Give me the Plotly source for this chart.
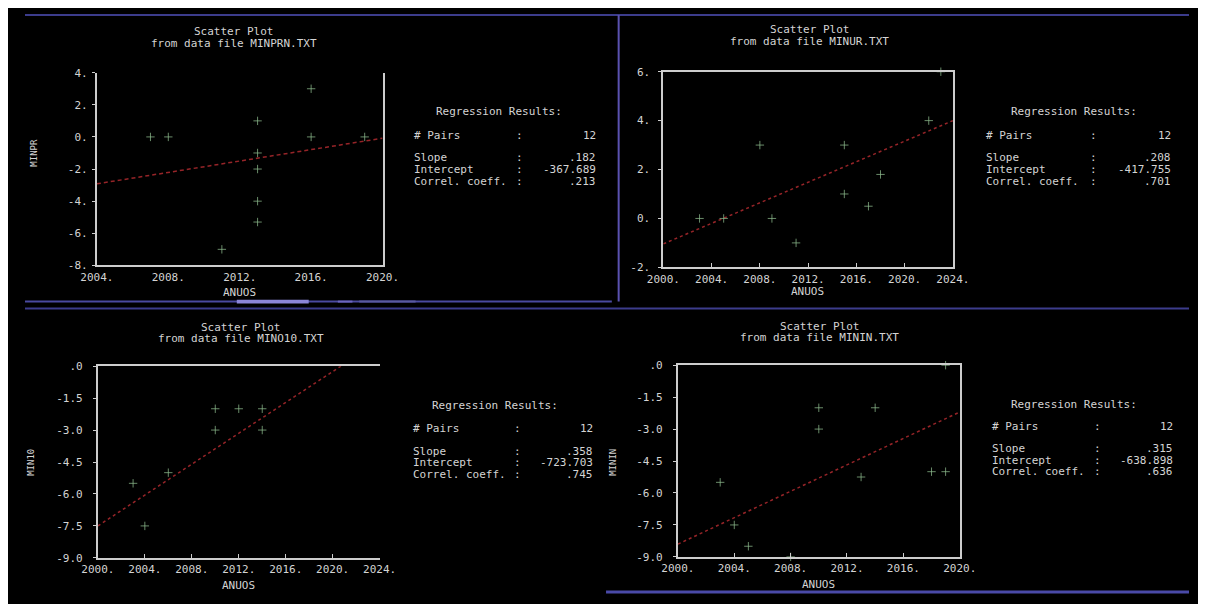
import plotly.graph_objects as go

# The page body has an 8px white margin; the figure fills the rest of the window.
OFF = 8
W, H = 1206 - OFF, 604 - OFF

# ---------------- data ----------------
p1_years = [2007, 2008, 2013, 2013, 2013, 2013, 2013, 2011, 2016, 2016, 2019]
p1_vals = [0, 0, 1, -1, -2, -4, -5.3, -7, 3, 0, 0]
p1_line_x = [2004, 2020]
p1_line_y = [-2.92, -0.08]
p1_xticks = [2004, 2008, 2012, 2016, 2020]
p1_xlabels = ["2004.", "2008.", "2012.", "2016.", "2020."]
p1_yticks = [4, 2, 0, -2, -4, -6, -8]
p1_ylabels = ["4.", "2.", "0.", "-2.", "-4.", "-6.", "-8."]
p1_stats = ["12", ".182", "-367.689", ".213"]

p2_years = [2003, 2005, 2008, 2009, 2011, 2015, 2015, 2017, 2018, 2022, 2023]
p2_vals = [0, 0, 3, 0, -1, 3, 1, 0.5, 1.8, 4, 6]
p2_line_x = [2000, 2024]
p2_line_y = [-1.04, 4.0]
p2_xticks = [2000, 2004, 2008, 2012, 2016, 2020, 2024]
p2_xlabels = ["2000.", "2004.", "2008.", "2012.", "2016.", "2020.", "2024."]
p2_yticks = [6, 4, 2, 0, -2]
p2_ylabels = ["6.", "4.", "2.", "0.", "-2."]
p2_stats = ["12", ".208", "-417.755", ".701"]

p3_years = [2003, 2004, 2006, 2010, 2010, 2012, 2014, 2014]
p3_vals = [-5.5, -7.5, -5.0, -2.0, -3.0, -2.0, -2.0, -3.0]
p3_line_x = [2000, 2020.7]
p3_line_y = [-7.5, 0.0]
p3_xticks = [2000, 2004, 2008, 2012, 2016, 2020, 2024]
p3_xlabels = ["2000.", "2004.", "2008.", "2012.", "2016.", "2020.", "2024."]
p3_yticks = [0, -1.5, -3.0, -4.5, -6.0, -7.5, -9.0]
p3_ylabels = [".0", "-1.5", "-3.0", "-4.5", "-6.0", "-7.5", "-9.0"]
p3_stats = ["12", ".358", "-723.703", ".745"]

p4_years = [2003, 2004, 2005, 2008, 2010, 2010, 2013, 2014, 2018, 2019, 2019]
p4_vals = [-5.5, -7.5, -8.5, -9.0, -2.0, -3.0, -5.25, -2.0, -5.0, -5.0, 0.0]
p4_line_x = [2000, 2020]
p4_line_y = [-8.4, -2.2]
p4_xticks = [2000, 2004, 2008, 2012, 2016, 2020]
p4_xlabels = ["2000.", "2004.", "2008.", "2012.", "2016.", "2020."]
p4_yticks = [0, -1.5, -3.0, -4.5, -6.0, -7.5, -9.0]
p4_ylabels = [".0", "-1.5", "-3.0", "-4.5", "-6.0", "-7.5", "-9.0"]
p4_stats = ["12", ".315", "-638.898", ".636"]

files = ["MINPRN.TXT", "MINUR.TXT", "MINO10.TXT", "MININ.TXT"]
x_titles = ["ANUOS", "ANUOS", "ANUOS", "ANUOS"]
y_titles = ["MINPR", "", "MIN10", "MININ"]
stat_labels = ["# Pairs", "Slope", "Intercept", "Correl. coeff."]

# ---------------- styling ----------------
MONO = "DejaVu Sans Mono"
TXT = "#d4d4d4"
AXC = "#cdcdcd"
RED = "#962428"
PT = "rgba(140,185,140,0.75)"
BLUE = "#3c3c8c"
FS = 11


# positions below are window pixels (x from left, y from top)
def fx(x):
    return (x - OFF) / W


def fy(y):
    return 1 - (y - OFF) / H


panels = [
    dict(dom_x=(82, 376), dom_y=(68, 265), rx=(2004, 2020), ry=(-8, 4),
         xs=p1_years, ys=p1_vals, lx=p1_line_x, ly=p1_line_y, dash="4px,3px",
         xt=p1_xticks, xl=p1_xlabels, yt=p1_yticks, yl=p1_ylabels,
         xmirror=False, ymirror=True, xticks="", ystand=2, stats=p1_stats,
         title=(223, 26, 38), xtitle=(229, 293), ytitle=(17, 150),
         reg=dict(head=(496, 108), left=406, colon=517, right=598, rows=(132, 155, 167, 179))),
    dict(dom_x=(665, 963), dom_y=(67, 267), rx=(2000, 2024), ry=(-2, 6),
         xs=p2_years, ys=p2_vals, lx=p2_line_x, ly=p2_line_y, dash="dot",
         xt=p2_xticks, xl=p2_xlabels, yt=p2_yticks, yl=p2_ylabels,
         xmirror=True, ymirror=True, xticks="inside", ystand=6, stats=p2_stats,
         title=(815, 24, 36), xtitle=(813, 292), ytitle=(628, 160),
         reg=dict(head=(1088, 108), left=995, colon=1108, right=1190, rows=(132, 155, 167, 179))),
    dict(dom_x=(83, 373), dom_y=(368, 564), rx=(2000, 2024), ry=(-9, 0),
         xs=p3_years, ys=p3_vals, lx=p3_line_x, ly=p3_line_y, dash="dot",
         xt=p3_xticks, xl=p3_xlabels, yt=p3_yticks, yl=p3_ylabels,
         xmirror=True, ymirror=False, xticks="inside", ystand=8, stats=p3_stats,
         title=(230, 328, 340), xtitle=(228, 592), ytitle=(14, 466),
         reg=dict(head=(492, 408), left=405, colon=515, right=595, rows=(432, 455, 467, 479))),
    dict(dom_x=(680, 970), dom_y=(367, 563), rx=(2000, 2020), ry=(-9, 0),
         xs=p4_years, ys=p4_vals, lx=p4_line_x, ly=p4_line_y, dash="dot",
         xt=p4_xticks, xl=p4_xlabels, yt=p4_yticks, yl=p4_ylabels,
         xmirror=True, ymirror=True, xticks="inside", ystand=8, stats=p4_stats,
         title=(826, 327, 339), xtitle=(825, 591), ytitle=(613, 466),
         reg=dict(head=(1088, 407), left=1001, colon=1112, right=1192, rows=(430, 452, 464, 476))),
]

fig = go.Figure()
layout = dict(
    width=W, height=H, margin=dict(l=0, r=0, t=0, b=0),
    paper_bgcolor="black", plot_bgcolor="black", showlegend=False,
    font=dict(family=MONO, color=TXT, size=FS),
)
annotations = []
shapes = []


def ann(text, x, y, xanchor="center", size=FS, angle=0, color=TXT):
    annotations.append(dict(text=text, x=fx(x), y=fy(y), xref="paper", yref="paper",
                            xanchor=xanchor, yanchor="middle", showarrow=False,
                            textangle=angle, font=dict(family=MONO, size=size, color=color)))


for i, p in enumerate(panels):
    n = "" if i == 0 else str(i + 1)
    xa, ya = "x" + n, "y" + n
    fig.add_trace(go.Scatter(x=p["lx"], y=p["ly"], mode="lines", xaxis=xa, yaxis=ya,
                             line=dict(color=RED, width=1.5, dash=p["dash"]), hoverinfo="skip"))
    fig.add_trace(go.Scatter(x=p["xs"], y=p["ys"], mode="markers", xaxis=xa, yaxis=ya,
                             cliponaxis=False,
                             marker=dict(symbol="cross-thin", size=6,
                                         line=dict(color=PT, width=1))))
    layout["xaxis" + n] = dict(
        domain=[fx(p["dom_x"][0]), fx(p["dom_x"][1])], range=list(p["rx"]),
        anchor=ya, showgrid=False, zeroline=False, showline=True, linecolor=AXC,
        linewidth=2, mirror=p["xmirror"], ticks=p["xticks"], ticklen=4, tickcolor=AXC,
        tickvals=p["xt"], ticktext=p["xl"], tickfont=dict(family=MONO, size=FS, color=TXT),
        fixedrange=True)
    layout["yaxis" + n] = dict(
        domain=[fy(p["dom_y"][1]), fy(p["dom_y"][0])], range=list(p["ry"]),
        anchor=xa, showgrid=False, zeroline=False, showline=True, linecolor=AXC,
        linewidth=2, mirror=p["ymirror"], ticks="outside", ticklen=3, tickcolor=AXC,
        ticklabelstandoff=p["ystand"],
        tickvals=p["yt"], ticktext=p["yl"], tickfont=dict(family=MONO, size=FS, color=TXT),
        fixedrange=True)

    tx, t1, t2 = p["title"]
    ann("Scatter Plot", tx, t1)
    ann("from data file " + files[i], tx, t2)
    ann(x_titles[i], *p["xtitle"])
    if y_titles[i]:
        ann(y_titles[i], p["ytitle"][0], p["ytitle"][1], size=9, angle=-90)

    r = p["reg"]
    ann("Regression Results:", r["head"][0], r["head"][1])
    for lab, val, yy in zip(stat_labels, p["stats"], r["rows"]):
        ann(lab, r["left"], yy, xanchor="left")
        ann(":", r["colon"], yy)
        ann(val, r["right"], yy, xanchor="right")


def rect(x0, y0, x1, y1, color):
    shapes.append(dict(type="rect", xref="paper", yref="paper", x0=fx(x0), x1=fx(x1),
                       y0=fy(y1), y1=fy(y0), fillcolor=color, line=dict(width=0), layer="above"))


def hline(x0, x1, y, color, w=2):
    shapes.append(dict(type="line", xref="paper", yref="paper", x0=fx(x0), x1=fx(x1),
                       y0=fy(y), y1=fy(y), line=dict(color=color, width=w), layer="above"))


def vline(x, y0, y1, color, w=2):
    shapes.append(dict(type="line", xref="paper", yref="paper", x0=fx(x), x1=fx(x),
                       y0=fy(y0), y1=fy(y1), line=dict(color=color, width=w), layer="above"))


# screen frame pieces (white page margin supplies the white top/left strip)
hline(OFF, 1206, 9, BLUE, 2)
vline(619, 9, 302, "#5a52b0", 2)
hline(OFF, 612, 302, "#4a4aa0", 2)
hline(OFF, 1206, 309, BLUE, 2)
hline(606, 1206, 599, "#4a4aa8", 3)
rect(226, 300, 300, 304, "#8c86d8")
rect(330, 301, 345, 303, "#6c66c0")
rect(352, 301, 410, 303, "#5a5aa0")

layout["annotations"] = annotations
layout["shapes"] = shapes
fig.update_layout(**layout)
fig.write_html("out.html", config={"displayModeBar": False})
